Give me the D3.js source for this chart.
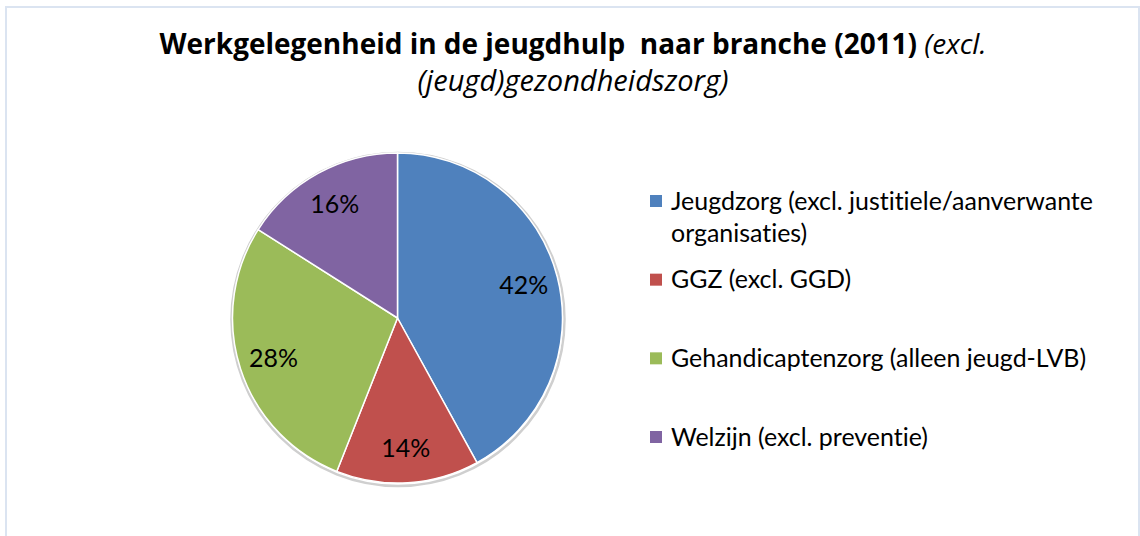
<html>
<head>
<meta charset="utf-8">
<title>Werkgelegenheid in de jeugdhulp</title>
<style>
    body { margin: 0; background: #fff; }
    svg { display: block; }
    .title { font-family: "Open Sans", sans-serif; fill: #000; }
    .lbl, .legend text { font-family: Lato, "Open Sans", sans-serif; fill: #000; font-variant-ligatures: none; }
</style>
<script src="https://d3js.org/d3.v7.min.js"></script>
</head>
<body>
<script>
// data
const categories = ["Jeugdzorg", "GGZ", "Gehandicaptenzorg", "Welzijn"];
const shares = [42, 14, 28, 16];
const legendLines = [
    ["Jeugdzorg (excl. justitiele/aanverwante", "organisaties)"],
    ["GGZ (excl. GGD)"],
    ["Gehandicaptenzorg (alleen jeugd-LVB)"],
    ["Welzijn (excl. preventie)"]
];
const colors = ["#4f81bd", "#c0504d", "#9bbb59", "#8064a2"];
const titleBold = "Werkgelegenheid in de jeugdhulp  naar branche (2011)";
const titleItalic1 = " (excl.";
const titleItalic2 = "(jeugd)gezondheidszorg)";

const width = 1140, height = 536;
const cx = 397.5, cy = 318, radius = 165;

const svg = d3.select("body").append("svg")
    .attr("width", width)
    .attr("height", height);

// light frame around the chart
svg.append("rect")
    .attr("x", 6).attr("y", 7)
    .attr("width", 1133).attr("height", 560)
    .attr("fill", "none")
    .attr("stroke", "#dbe4f1")
    .attr("stroke-width", 2);

// title line 1: bold part + italic part
const title1 = svg.append("text")
    .attr("class", "title")
    .attr("x", 573).attr("y", 54)
    .attr("text-anchor", "middle")
    .attr("font-size", 20)
    .style("white-space", "pre");
title1.append("tspan").attr("font-weight", "bold").text(titleBold);
title1.append("tspan").attr("font-style", "italic").text(titleItalic1);

// title line 2
const title2 = svg.append("text")
    .attr("class", "title")
    .attr("x", 573).attr("y", 91)
    .attr("text-anchor", "middle")
    .attr("font-style", "italic")
    .attr("font-size", 20)
    .text(titleItalic2);

// scale title lines to the widths seen in the picture
const tw = title1.node().getComputedTextLength();
title1.attr("font-size", 20 * 827 / tw);
const tw2 = title2.node().getComputedTextLength();
title2.attr("font-size", 20 * 311 / tw2);

// pie
const pie = d3.pie().sort(null).value(d => d);
const arcs = pie(shares);
const arc = d3.arc().innerRadius(0).outerRadius(radius);
const labelArc = d3.arc().innerRadius(radius * 0.79).outerRadius(radius * 0.79);

const g = svg.append("g").attr("transform", `translate(${cx},${cy})`);

// soft bevel edge
g.append("circle")
    .attr("cx", 0.5).attr("cy", 1.5)
    .attr("r", radius + 1.5)
    .attr("fill", "none")
    .attr("stroke", "#cfcfcf")
    .attr("stroke-width", 2.5);

g.selectAll("path.slice")
    .data(arcs)
    .join("path")
    .attr("class", "slice")
    .attr("d", arc)
    .attr("fill", (d, i) => colors[i])
    .attr("stroke", "#fff")
    .attr("stroke-width", 1.5)
    .attr("stroke-linejoin", "round");

// legend
const ly = d3.scalePoint().domain(categories).range([201, 437]);
const legend = svg.append("g").attr("class", "legend");
const item = legend.selectAll("g")
    .data(categories)
    .join("g")
    .attr("transform", d => `translate(650,${ly(d)})`);

item.append("rect")
    .attr("x", 0).attr("y", -6)
    .attr("width", 12).attr("height", 12)
    .attr("fill", (d, i) => colors[i]);

const ltext = item.append("text")
    .attr("x", 21).attr("y", 0)
    .attr("font-size", 20);
ltext.selectAll("tspan")
    .data((d, i) => legendLines[i])
    .join("tspan")
    .attr("x", 21)
    .attr("y", (d, j) => j * 32)
    .attr("dy", "0.35em")
    .text(d => d);

// fit legend font so the longest line matches the picture
let maxW = 0;
ltext.selectAll("tspan").each(function() {
    maxW = Math.max(maxW, this.getComputedTextLength());
});
const lsize = 20 * 422 / maxW;
ltext.attr("font-size", lsize);

// percentage labels
g.selectAll("text.lbl")
    .data(arcs)
    .join("text")
    .attr("class", "lbl")
    .attr("transform", d => `translate(${labelArc.centroid(d)})`)
    .attr("text-anchor", "middle")
    .attr("dy", "0.35em")
    .attr("font-size", lsize)
    .text(d => d.data + "%");
</script>
</body>
</html>
